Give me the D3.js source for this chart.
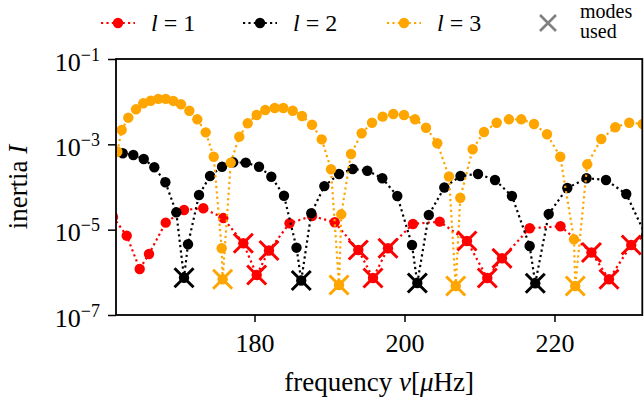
<!DOCTYPE html>
<html><head><meta charset="utf-8">
<script src="https://cdn.jsdelivr.net/npm/d3@7"></script>
<style>body{margin:0;background:#fff}</style>
</head><body><svg id="c" width="644" height="405" style="font-family:'Liberation Serif',serif"></svg>
<script>
// ---- data ----
const freqL1 = [161.13,162.96,164.69,165.93,168.16,170.6,173.17,175.84,178.51,180.29,181.93,184.67,187.67,190.69,193.84,195.8,197.8,201.13,204.69,208.33,211.04,213.0,216.69,220.8,224.93,227.27,230.24,233.4];
const inertiaL1 = [1.98e-5,7.23e-6,1.20e-6,2.69e-6,1.46e-5,2.89e-5,3.17e-5,1.87e-5,4.79e-6,8.65e-7,3.25e-6,1.41e-5,2.09e-5,1.49e-5,3.33e-6,7.36e-7,3.66e-6,1.36e-5,1.54e-5,5.42e-6,7.36e-7,2.13e-6,1.08e-5,1.20e-5,2.92e-6,6.87e-7,4.38e-6,1.09e-5];
const usedL1 = [8,9,10,14,15,16,19,20,21,24,25,26];

const freqL2 = [162.43,163.84,165.23,166.64,168.11,169.57,170.6,171.13,172.6,174.07,175.67,177.17,178.83,180.6,182.24,183.93,185.6,186.23,187.57,189.31,191.27,193.09,195.04,197.04,199.04,201.0,201.71,203.24,205.31,207.47,209.8,212.07,214.33,216.69,217.44,219.23,221.71,224.27,226.87,229.57,232.2];
const inertiaL2 = [6.17e-4,5.62e-4,4.53e-4,2.90e-4,1.29e-4,2.55e-5,7.45e-7,4.54e-6,6.49e-5,1.81e-4,2.99e-4,3.79e-4,3.72e-4,2.99e-4,1.74e-4,6.25e-5,3.78e-6,6.44e-7,2.42e-5,1.05e-4,2.02e-4,2.64e-4,2.41e-4,1.60e-4,6.15e-5,4.38e-6,5.62e-7,2.21e-5,9.73e-5,1.81e-4,2.02e-4,1.46e-4,6.15e-5,4.14e-6,5.53e-7,2.33e-5,9.48e-5,1.60e-4,1.46e-4,6.85e-5,7.11e-6];
const usedL2 = [6,17,26,34];

const freqL3 = [161.71,162.29,163.17,164.2,165.17,166.16,167.17,168.16,169.17,170.2,171.31,172.37,173.49,174.56,175.62,175.75,176.83,177.97,179.09,180.29,181.44,182.69,183.84,185.09,186.33,187.67,188.96,190.2,191.27,191.57,192.87,194.29,195.67,197.09,198.51,199.93,201.4,202.87,204.37,205.93,206.83,207.44,209.09,210.6,212.29,213.93,215.57,217.27,219.0,220.77,222.6,222.77,224.37,226.24,228.11,229.97,231.76];
const inertiaL3 = [6.71e-4,2.17e-3,4.21e-3,6.62e-3,9.16e-3,1.05e-2,1.16e-2,1.16e-2,1.04e-2,8.67e-3,6.14e-3,3.86e-3,1.91e-3,5.13e-4,3.66e-6,6.87e-7,3.72e-4,1.51e-3,3.11e-3,4.88e-3,6.38e-3,7.11e-3,7.11e-3,6.14e-3,4.61e-3,2.88e-3,1.31e-3,2.60e-4,5.05e-7,2.29e-5,5.94e-4,1.82e-3,3.21e-3,4.45e-3,5.14e-3,4.88e-3,3.86e-3,2.45e-3,1.06e-3,1.76e-4,4.79e-7,5.58e-5,7.66e-4,1.95e-3,3.21e-3,3.86e-3,3.86e-3,3.00e-3,1.72e-3,5.13e-4,5.94e-6,4.79e-7,3.40e-4,1.33e-3,2.51e-3,3.21e-3,3.00e-3];
const usedL3 = [15,28,40,51];

const seriesNames = ["1","2","3"];
const seriesColors = ["red","black","orange"];
const xTicks = [180,200,220];
const yTickExponents = [-7,-5,-3,-1];
const xDomain = [161.53,231.71];
const yDomain = [1e-7,1e-1];

// ---- drawing ----
const FONT = "'Liberation Serif', serif";
const series = [
  {f:freqL1, v:inertiaL1, used:usedL1},
  {f:freqL2, v:inertiaL2, used:usedL2},
  {f:freqL3, v:inertiaL3, used:usedL3}
].map((s,i)=>({name:seriesNames[i], color:seriesColors[i], used:s.used,
  pts:s.f.map((f,j)=>({f, v:s.v[j], j}))}));

const svg = d3.select("#c");
const L=116, R=642.3, T=59, B=315;
const x = d3.scaleLinear().domain(xDomain).range([L,R]);
const y = d3.scaleLog().domain(yDomain).range([B,T]);

svg.append("defs").append("clipPath").attr("id","clip")
  .append("rect").attr("x",L).attr("y",T).attr("width",R-L).attr("height",B-T);

const plot = svg.append("g").attr("clip-path","url(#clip)");
const line = d3.line().x(d=>x(d.f)).y(d=>y(d.v));

series.forEach(s=>{
  const g = plot.append("g");
  g.append("path").datum(s.pts).attr("d",line).attr("fill","none")
    .attr("stroke",s.color).attr("stroke-width",2.2).attr("stroke-dasharray","2.2,3.2");
  g.selectAll("circle").data(s.pts).join("circle")
    .attr("cx",d=>x(d.f)).attr("cy",d=>y(d.v)).attr("r",5.2).attr("fill",s.color);
});
series.forEach(s=>{
  const pts = s.used.map(i=>s.pts[i]);
  const g = plot.append("g");
  pts.forEach(d=>{
    const cx=x(d.f), cy=y(d.v), a=9.5;
    g.append("path").attr("d",`M${cx-a},${cy-a}L${cx+a},${cy+a}M${cx-a},${cy+a}L${cx+a},${cy-a}`)
      .attr("stroke",s.color).attr("stroke-width",3).attr("fill","none");
  });
});

// axes
const xAxis = svg.append("g").attr("transform",`translate(0,${B})`)
  .call(d3.axisBottom(x).tickValues(xTicks).tickSize(7).tickSizeOuter(0).tickFormat(d3.format("d")))
  .attr("font-family",null).attr("font-size",null);
xAxis.select(".domain").remove();
xAxis.selectAll(".tick line").attr("stroke","#000").attr("stroke-width",1.5);
xAxis.selectAll(".tick text").attr("y",37).attr("dy",0).attr("fill","#000")
  .style("font-family",FONT).style("font-size","26px");

const yAxis = svg.append("g").attr("transform",`translate(${L},0)`)
  .call(d3.axisLeft(y).tickValues(yTickExponents.map(e=>Math.pow(10,e))).tickSize(8).tickSizeOuter(0).tickFormat(""))
  .attr("font-family",null).attr("font-size",null);
yAxis.select(".domain").remove();
yAxis.selectAll(".tick text").remove();
yAxis.selectAll(".tick line").attr("stroke","#000").attr("stroke-width",1.5);
yAxis.selectAll(".tick").each(function(d,i){
  const t = d3.select(this).append("text").attr("x",-16).attr("y",11).attr("fill","#000")
    .attr("text-anchor","end").style("font-family",FONT).style("font-size","26px");
  t.append("tspan").text("10");
  t.append("tspan").attr("dy",-10).style("font-size","18px").text("\u2212"+(-yTickExponents[i]));
});

svg.append("rect").attr("x",L).attr("y",T).attr("width",R-L).attr("height",B-T)
  .attr("fill","none").attr("stroke","#000").attr("stroke-width",1.8);

// axis labels
const xl = svg.append("text").attr("x",(L+R)/2).attr("y",391).attr("text-anchor","middle").attr("fill","#000")
  .style("font-family",FONT).style("font-size","27px");
xl.append("tspan").text("frequency ");
xl.append("tspan").style("font-style","italic").text("\u03bd");
xl.append("tspan").text("[");
xl.append("tspan").style("font-style","italic").text("\u03bc");
xl.append("tspan").text("Hz]");

const yl = svg.append("text").attr("transform",`translate(27,${(T+B)/2}) rotate(-90)`).attr("fill","#000")
  .attr("text-anchor","middle").style("font-family",FONT).style("font-size","27px");
yl.append("tspan").text("inertia ");
yl.append("tspan").style("font-style","italic").text("I");

// legend
const legX = [118,260,404];
const legY = 23;
series.forEach((s,i)=>{
  const g = svg.append("g");
  g.append("line").attr("x1",legX[i]-17).attr("x2",legX[i]+17).attr("y1",legY).attr("y2",legY)
    .attr("stroke",s.color).attr("stroke-width",2.2).attr("stroke-dasharray","2.2,3.2");
  g.append("circle").attr("cx",legX[i]).attr("cy",legY).attr("r",5.2).attr("fill",s.color);
  const t = g.append("text").attr("x",legX[i]+33).attr("y",legY+8).attr("fill","#000")
    .style("font-family",FONT).style("font-size","24px");
  t.append("tspan").style("font-style","italic").text("l");
  t.append("tspan").text(" = "+s.name);
});
{
  const cx=548, cy=legY, a=8;
  svg.append("path").attr("d",`M${cx-a},${cy-a}L${cx+a},${cy+a}M${cx-a},${cy+a}L${cx+a},${cy-a}`)
    .attr("stroke","grey").attr("stroke-width",2.6).attr("fill","none");
  svg.append("text").attr("x",580).attr("y",18).attr("fill","#000").style("font-family",FONT).style("font-size","20px").text("modes");
  svg.append("text").attr("x",580).attr("y",38).attr("fill","#000").style("font-family",FONT).style("font-size","20px").text("used");
}
</script></body></html>
